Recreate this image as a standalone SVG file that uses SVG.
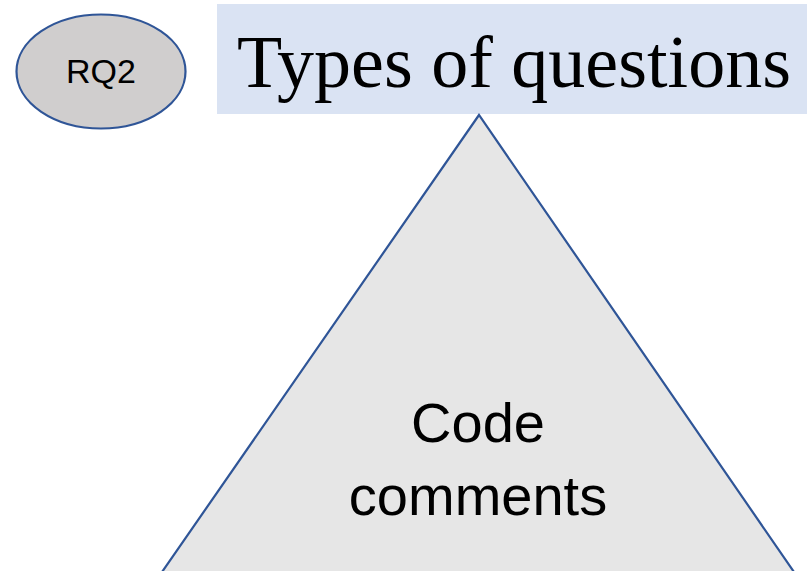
<svg xmlns="http://www.w3.org/2000/svg" width="807" height="571" viewBox="0 0 807 571">
<style>
.shape{stroke:#2f5597;stroke-width:2.2}
.sans{font-family:"Liberation Sans",Arial,sans-serif;fill:#000;text-anchor:middle}
.serif{font-family:"Liberation Serif","Times New Roman",serif;fill:#000;text-anchor:middle}
</style>
<rect width="807" height="571" fill="#ffffff"/>
<g id="rq2">
<ellipse class="shape" cx="101" cy="71.5" rx="84.5" ry="57" fill="#d0cece"/>
<text class="sans" x="101" y="83" font-size="34">RQ2</text>
</g>
<g id="title">
<rect x="217" y="4" width="590" height="110" fill="#dae3f3"/>
<text class="serif" x="514" y="87" font-size="74">Types of questions</text>
</g>
<g id="code-comments">
<polygon class="shape" points="479,115 162,572 794,572" fill="#e6e6e6" stroke-linejoin="miter"/>
<text class="sans" x="478" y="442" font-size="56">Code</text>
<text class="sans" x="478" y="515" font-size="56">comments</text>
</g>
<g id="connectors"></g>
</svg>
